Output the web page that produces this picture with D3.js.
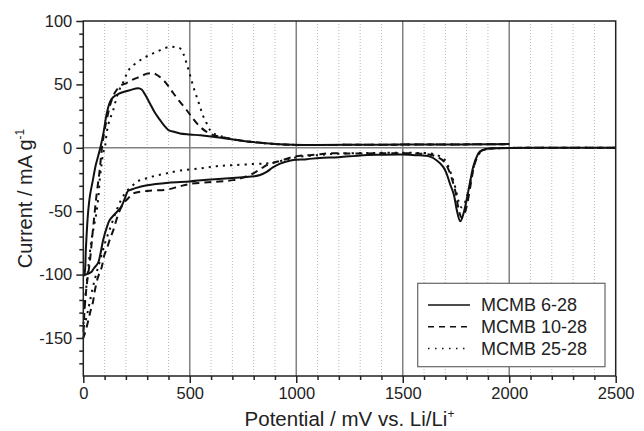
<!DOCTYPE html>
<html>
<head>
<meta charset="utf-8">
<script src="https://cdn.jsdelivr.net/npm/d3@7"></script>
<style>
  body { margin: 0; background: #fff; }
  svg text { font-family: "Liberation Sans", Arial, Helvetica, sans-serif; fill: #222; }
</style>
</head>
<body>
<div id="chart"></div>
<script>
// Series names
const seriesNames = ["MCMB 6-28", "MCMB 10-28", "MCMB 25-28"];

// Potential (mV) / current (mA g-1) pairs
// cathodic sweep goes from 2500 down to 0, anodic sweep goes back up to 2000
const mcmb6Cathodic = [
  [2500, 0], [2200, 0], [1950, -0.3], [1890, -1], [1862, -3], [1845, -8], [1831, -15], [1815, -28],
  [1800, -41], [1785, -52], [1770, -58], [1755, -50], [1740, -37], [1721, -28], [1705, -20], [1690, -15],
  [1660, -10], [1628, -7], [1560, -5.8], [1500, -5.3], [1400, -5.5], [1300, -6], [1200, -7.5], [1110, -8],
  [1050, -9], [986, -9.7], [950, -11], [924, -12.5], [890, -15.5], [861, -19], [830, -21.5], [800, -22.5],
  [767, -23], [700, -23.8], [600, -25], [501, -26.5], [400, -27.5], [300, -29.5], [241, -32], [225, -33],
  [210, -34], [195, -40], [178, -46.6], [150, -52], [124, -57], [110, -63], [93, -73], [80, -84],
  [69, -91], [50, -95], [38, -98], [20, -99.5], [6, -100.5], [0, -101]
];
const mcmb6Anodic = [
  [0, -101], [6, -99], [12, -80], [22, -52], [32, -37], [45, -25.5], [58, -14], [69, -7], [81, 0.8],
  [95, 12], [110, 27], [125, 36], [141, 40], [165, 42.5], [188, 44], [220, 45.5], [258, 47], [274, 46],
  [290, 42], [313, 35], [335, 28], [360, 22], [380, 17.5], [400, 14], [430, 12.5], [454, 11.3], [501, 10.5],
  [550, 9.8], [610, 8.7], [660, 7.6], [704, 6.6], [760, 5.2], [830, 4], [900, 3], [986, 2.3], [1100, 2.2],
  [1300, 2.4], [1500, 2.5], [1700, 2.6], [1900, 2.8], [2000, 2.9]
];

const mcmb10Cathodic = [
  [2500, 0], [2200, 0], [1950, -0.3], [1895, -1], [1865, -3], [1848, -8], [1833, -16], [1818, -30],
  [1803, -44], [1790, -52], [1776, -55], [1762, -48], [1748, -35], [1730, -24], [1712, -16], [1695, -11],
  [1665, -7.5], [1630, -5.5], [1560, -4.5], [1500, -4.3], [1400, -4.3], [1300, -4.6], [1158, -4.4], [1100, -5.3],
  [1040, -6], [986, -7.1], [930, -10], [890, -12], [861, -13.7], [830, -17], [798, -20.2], [750, -23.5],
  [704, -25.5], [600, -27], [501, -28.5], [450, -30.5], [391, -33], [300, -34], [235, -36], [210, -40],
  [188, -44], [165, -52], [141, -65], [125, -72], [110, -80], [100, -84], [85, -95], [69, -102],
  [55, -112], [45, -122], [35, -128], [24, -136], [8, -146], [0, -150]
];
const mcmb10Anodic = [
  [0, -150], [5, -130], [12, -115], [20, -103], [30, -91], [45, -65], [61, -39], [77, -17.6], [88, 0.8],
  [100, 14], [115, 26], [130, 36], [150, 44], [175, 49], [203, 51], [235, 54], [266, 56], [300, 58.5],
  [329, 58.7], [350, 57], [376, 53.4], [400, 48.5], [423, 43], [450, 37], [485, 29.8], [515, 23], [548, 16.6],
  [579, 12.6], [610, 10], [650, 8.5], [704, 6.6], [760, 5.2], [830, 4], [900, 3], [986, 2.3], [1100, 2.2],
  [1300, 2.4], [1500, 2.5], [1700, 2.6], [1900, 2.8], [2000, 2.9]
];

const mcmb25Cathodic = [
  [2500, 0], [2200, 0], [1950, -0.3], [1895, -1], [1868, -3], [1850, -7], [1835, -14], [1820, -25],
  [1805, -36], [1790, -44], [1776, -47], [1762, -42], [1748, -32], [1730, -22], [1712, -14], [1695, -9],
  [1665, -6], [1630, -4.5], [1560, -4], [1400, -4], [1300, -4.2], [1158, -5], [1100, -5.8], [1017, -7.1],
  [955, -9.2], [900, -11.5], [861, -12.3], [800, -12.8], [704, -13.7], [626, -14.5], [548, -16.3], [454, -18],
  [391, -20.2], [340, -22], [298, -24], [260, -26], [230, -30], [200, -35], [175, -42], [150, -52],
  [125, -64], [100, -76], [80, -88], [60, -100], [45, -110], [30, -122], [20, -130], [10, -137], [0, -142]
];
const mcmb25Anodic = [
  [0, -142], [6, -125], [14, -110], [25, -92], [38, -73], [50, -62], [61, -52], [70, -40], [77, -25.5],
  [85, -14], [93, -4.4], [102, 1], [110, 12], [120, 20], [141, 30], [157, 40], [175, 48], [188, 52],
  [203, 58], [219, 62.7], [250, 67], [282, 70.6], [315, 73.5], [345, 75.8], [375, 78], [407, 79.7],
  [430, 79.5], [454, 78.5], [470, 74], [485, 66.6], [500, 58], [517, 48], [533, 40], [548, 32.4],
  [563, 25], [579, 19.3], [595, 14], [610, 11.5], [640, 9.5], [704, 6.6], [760, 5.2], [830, 4], [900, 3],
  [986, 2.3], [1100, 2.2], [1300, 2.4], [1500, 2.5], [1700, 2.6], [1900, 2.8], [2000, 2.9]
];

const xTicks = [0, 500, 1000, 1500, 2000, 2500];
const yTicks = [100, 50, 0, -50, -100, -150];

const curves = [
  { name: seriesNames[0], points: mcmb6Cathodic.concat(mcmb6Anodic), dash: null, legendDash: null },
  { name: seriesNames[1], points: mcmb10Cathodic.concat(mcmb10Anodic), dash: "7,5", legendDash: "6,5" },
  { name: seriesNames[2], points: mcmb25Cathodic.concat(mcmb25Anodic), dash: "2.2,5", legendDash: "1.5,5.5" }
];

const width = 644, height = 431;
const margin = { top: 21, left: 83.3, right: 644 - 615.7, bottom: 431 - 376 };

const svg = d3.select("#chart").append("svg")
  .attr("width", width)
  .attr("height", height);

const x = d3.scaleLinear().domain([0, 2500]).range([margin.left, width - margin.right]);
const y = d3.scaleLinear().domain([-180, 100]).range([height - margin.bottom, margin.top]);

// minor vertical grid every 100 mV (dotted), major every 500 (solid)
const minorX = d3.range(100, 2500, 100).filter(v => v % 500 !== 0);
svg.append("g").selectAll("line")
  .data(minorX)
  .enter().append("line")
  .attr("x1", d => x(d)).attr("x2", d => x(d))
  .attr("y1", y(100)).attr("y2", y(-180))
  .attr("stroke", "#b8b8b8")
  .attr("stroke-width", 1)
  .attr("stroke-dasharray", "1,2");

svg.append("g").selectAll("line")
  .data([500, 1000, 1500, 2000])
  .enter().append("line")
  .attr("x1", d => x(d)).attr("x2", d => x(d))
  .attr("y1", y(100)).attr("y2", y(-180))
  .attr("stroke", "#808080")
  .attr("stroke-width", 1.5);

// zero current line
svg.append("line")
  .attr("x1", x(0)).attr("x2", x(2500))
  .attr("y1", y(0)).attr("y2", y(0))
  .attr("stroke", "#808080")
  .attr("stroke-width", 1.5);

// curves
const line = d3.line()
  .x(d => x(d[0]))
  .y(d => y(d[1]))
  .curve(d3.curveCatmullRom.alpha(0.5));

svg.append("g").selectAll("path")
  .data(curves)
  .enter().append("path")
  .attr("d", d => line(d.points))
  .attr("fill", "none")
  .attr("stroke", "#111")
  .attr("stroke-width", 2)
  .attr("stroke-dasharray", d => d.dash);

// frame
svg.append("rect")
  .attr("x", x(0)).attr("y", y(100))
  .attr("width", x(2500) - x(0))
  .attr("height", y(-180) - y(100))
  .attr("fill", "none")
  .attr("stroke", "#222")
  .attr("stroke-width", 1.5);

// axes (plain hyphen for negatives, like the original)
const fmt = d => String(d);
const xAxis = d3.axisBottom(x).tickValues(xTicks).tickSize(7).tickPadding(4).tickFormat(fmt);
const xMinor = d3.axisBottom(x).tickValues(minorX).tickSize(4).tickFormat("");
const yAxis = d3.axisLeft(y).tickValues(yTicks).tickSize(7).tickPadding(4).tickFormat(fmt);
const yMinor = d3.axisLeft(y).tickValues(d3.range(-170, 100, 10).filter(v => v % 50 !== 0)).tickSize(4).tickFormat("");

function styleAxis(g) {
  g.select(".domain").remove();
  g.selectAll(".tick line").attr("stroke", "#222").attr("stroke-width", 1.5);
  g.selectAll(".tick text").style("font-size", "16.5px").attr("fill", "#222");
}

svg.append("g").attr("transform", `translate(0,${y(-180)})`).call(xAxis).call(styleAxis);
svg.append("g").attr("transform", `translate(0,${y(-180)})`).call(xMinor).call(styleAxis);
svg.append("g").attr("transform", `translate(${x(0)},0)`).call(yAxis).call(styleAxis);
svg.append("g").attr("transform", `translate(${x(0)},0)`).call(yMinor).call(styleAxis);

// axis titles
const xTitle = svg.append("text")
  .attr("x", (x(0) + x(2500)) / 2)
  .attr("y", 426)
  .attr("text-anchor", "middle")
  .style("font-size", "20.5px");
xTitle.append("tspan").text("Potential / mV vs. Li/Li");
xTitle.append("tspan").attr("dy", -8).style("font-size", "12px").text("+");

const yTitle = svg.append("text")
  .attr("transform", `translate(32,${(y(100) + y(-180)) / 2}) rotate(-90)`)
  .attr("text-anchor", "middle")
  .style("font-size", "20px");
yTitle.append("tspan").text("Current / mA g");
yTitle.append("tspan").attr("dy", -8).style("font-size", "12px").text("-1");

// legend
const legend = svg.append("g");
legend.append("rect")
  .attr("x", 417.7).attr("y", 283.3)
  .attr("width", 605 - 417.7).attr("height", 366.7 - 283.3)
  .attr("fill", "#fff")
  .attr("stroke", "#666")
  .attr("stroke-width", 1.2);

const rows = legend.selectAll("g.row")
  .data(curves)
  .enter().append("g")
  .attr("class", "row")
  .attr("transform", (d, i) => `translate(0,${305 + i * 21.7})`);

rows.append("line")
  .attr("x1", 428).attr("x2", 470)
  .attr("stroke", "#111")
  .attr("stroke-width", 1.5)
  .attr("stroke-dasharray", d => d.legendDash);

rows.append("text")
  .attr("x", 481)
  .attr("dy", "0.36em")
  .style("font-size", "18px")
  .text(d => d.name);
</script>
</body>
</html>
